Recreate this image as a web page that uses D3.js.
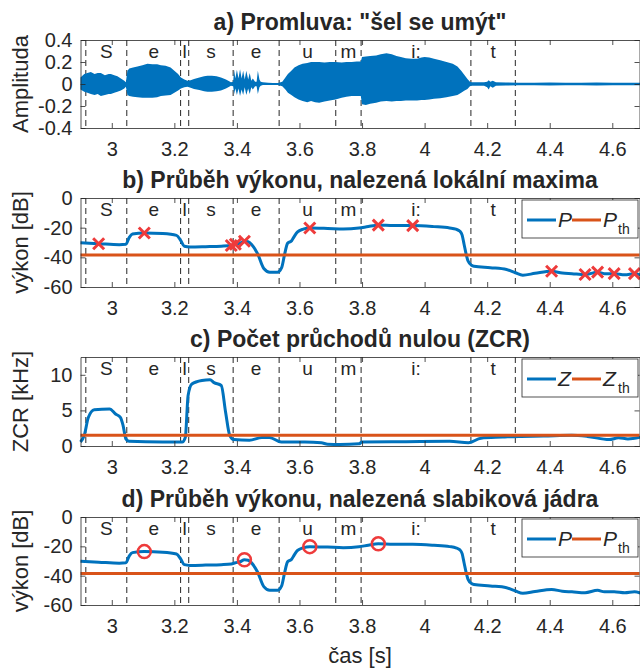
<!DOCTYPE html>
<html>
<head>
<meta charset="utf-8">
<script src="https://cdn.jsdelivr.net/npm/d3@7"></script>
<style>
body { margin: 0; background: #fff; }
text { font-family: "Liberation Sans", Arial, sans-serif; fill: #262626; }
</style>
</head>
<body>
<svg id="chart" width="640" height="668"></svg>
<script>

// phoneme segmentation
var boundaries = [2.917, 3.048, 3.220, 3.246, 3.388, 3.535, 3.716, 3.797, 4.148, 4.290];
var phonemes = ["S", "e", "l", "s", "e", "u", "m", "i:", "t"];

// a) waveform envelope (read from the picture)
var waveT = [2.900, 2.912, 2.922, 2.933, 2.945, 2.955, 2.965, 2.978, 2.990, 2.997, 3.008, 3.018, 3.029, 3.040, 3.045,
  3.050, 3.056, 3.068, 3.082, 3.098, 3.114, 3.130, 3.145, 3.157, 3.172, 3.188, 3.200, 3.212, 3.221, 3.232, 3.242,
  3.252, 3.263, 3.280, 3.295, 3.306, 3.320, 3.335, 3.349, 3.365, 3.381, 3.388,
  3.391, 3.395, 3.400, 3.405, 3.410, 3.415, 3.420, 3.425, 3.430, 3.436, 3.441, 3.446, 3.451, 3.458, 3.463, 3.467, 3.472, 3.476,
  3.483, 3.500, 3.515, 3.531, 3.545, 3.555, 3.563, 3.574, 3.584, 3.597, 3.610, 3.625, 3.637, 3.650, 3.663, 3.680,
  3.697, 3.715, 3.735, 3.750, 3.767, 3.783, 3.796, 3.800, 3.812, 3.826, 3.845, 3.860, 3.878, 3.895, 3.910, 3.924,
  3.940, 3.958, 3.976, 3.990, 4.000, 4.015, 4.030, 4.050, 4.070, 4.090, 4.105, 4.117, 4.128, 4.137, 4.145, 4.150,
  4.170, 4.190, 4.200, 4.205, 4.210, 4.218, 4.228, 4.260, 4.300, 4.350, 4.400, 4.450, 4.500, 4.550, 4.600, 4.650, 4.690];
var waveHi = [0.06, 0.09, 0.10, 0.11, 0.09, 0.10, 0.10, 0.08, 0.09, 0.09, 0.08, 0.07, 0.05, 0.03, 0.015,
  0.12, 0.14, 0.15, 0.16, 0.17, 0.185, 0.18, 0.18, 0.17, 0.165, 0.15, 0.12, 0.09, 0.06, 0.04, 0.03,
  0.035, 0.045, 0.06, 0.07, 0.075, 0.075, 0.07, 0.06, 0.04, 0.015, 0.02,
  0.13, 0.05, 0.13, 0.05, 0.135, 0.05, 0.12, 0.04, 0.12, 0.04, 0.10, 0.03, 0.05, 0.02, 0.02, 0.12, 0.04, 0.02,
  0.015, 0.012, 0.01, 0.01, 0.02, 0.06, 0.09, 0.12, 0.15, 0.17, 0.185, 0.19, 0.20, 0.20, 0.20, 0.195,
  0.20, 0.20, 0.195, 0.20, 0.20, 0.205, 0.205, 0.245, 0.25, 0.255, 0.26, 0.27, 0.28, 0.27, 0.255, 0.245,
  0.235, 0.23, 0.23, 0.24, 0.245, 0.24, 0.23, 0.215, 0.20, 0.185, 0.16, 0.12, 0.08, 0.045, 0.02, 0.015,
  0.015, 0.015, 0.02, 0.035, 0.02, 0.03, 0.015, 0.013, 0.012, 0.012, 0.013, 0.012, 0.012, 0.013, 0.012, 0.012, 0.012];
var waveLo = [-0.05, -0.07, -0.08, -0.09, -0.10, -0.09, -0.11, -0.10, -0.09, -0.09, -0.08, -0.07, -0.06, -0.04, -0.025,
  -0.10, -0.11, -0.115, -0.12, -0.125, -0.125, -0.125, -0.12, -0.11, -0.105, -0.10, -0.08, -0.06, -0.04, -0.03, -0.025,
  -0.035, -0.045, -0.055, -0.065, -0.07, -0.07, -0.065, -0.06, -0.04, -0.015, -0.02,
  -0.09, -0.04, -0.10, -0.04, -0.11, -0.05, -0.10, -0.03, -0.10, -0.04, -0.09, -0.03, -0.05, -0.02, -0.02, -0.09, -0.03, -0.015,
  -0.01, -0.01, -0.01, -0.01, -0.02, -0.05, -0.08, -0.10, -0.12, -0.14, -0.155, -0.165, -0.155, -0.165, -0.17, -0.16,
  -0.15, -0.14, -0.125, -0.115, -0.11, -0.11, -0.11, -0.185, -0.19, -0.18, -0.17, -0.16, -0.155, -0.16, -0.155, -0.155,
  -0.15, -0.15, -0.15, -0.145, -0.145, -0.14, -0.135, -0.13, -0.12, -0.11, -0.10, -0.08, -0.06, -0.045, -0.02, -0.015,
  -0.015, -0.015, -0.03, -0.05, -0.02, -0.035, -0.015, -0.013, -0.012, -0.012, -0.013, -0.012, -0.012, -0.013, -0.012, -0.012, -0.012];

// b), d) power P [dB]
var powT = [2.900, 2.958, 3.024, 3.045, 3.056, 3.066, 3.104, 3.163, 3.207, 3.220, 3.232, 3.250, 3.300, 3.350, 3.382,
  3.395, 3.410, 3.424, 3.436, 3.447, 3.466, 3.486, 3.505, 3.530, 3.543, 3.552, 3.562, 3.575, 3.583, 3.594, 3.612,
  3.633, 3.690, 3.740, 3.790, 3.820, 3.852, 3.900, 3.962, 4.030, 4.080, 4.100, 4.113, 4.120, 4.126, 4.133, 4.139,
  4.150, 4.158, 4.210, 4.262, 4.290, 4.314, 4.353, 4.406, 4.440, 4.471, 4.513, 4.553, 4.575, 4.606, 4.640, 4.671, 4.690];
var powP = [-30.2, -30.8, -31.5, -31.2, -26.5, -24.3, -23.6, -24.0, -25.2, -28.5, -32.5, -33.0, -32.8, -32.5, -32.0,
  -31.2, -30.5, -29.2, -29.5, -31.3, -37.5, -47.5, -50.0, -50.0, -47.0, -38.5, -30.5, -28.8, -26.0, -22.8, -21.0,
  -20.2, -20.5, -20.9, -20.3, -19.2, -18.3, -18.6, -18.6, -19.3, -20.2, -21.0, -22.4, -25.0, -31.0, -38.0, -42.5,
  -45.3, -46.0, -47.0, -48.2, -50.4, -52.0, -50.8, -49.4, -50.6, -51.0, -51.6, -50.0, -51.0, -51.0, -51.7, -51.0, -51.8];
var powTh = -38.5;

// local maxima (b) and syllable nuclei (d)
var maxT = [2.958, 3.104, 3.382, 3.395, 3.424, 3.633, 3.852, 3.962, 4.406, 4.513, 4.553, 4.606, 4.671];
var maxP = [-30.8, -23.6, -32.0, -31.2, -29.2, -20.2, -18.3, -18.6, -49.4, -51.6, -50.0, -51.0, -51.0];
var nucT = [3.104, 3.424, 3.633, 3.852];
var nucP = [-23.6, -29.2, -20.2, -18.3];

// c) zero crossing rate Z [kHz]
var zcrT = [2.900, 2.912, 2.925, 2.944, 2.993, 3.012, 3.028, 3.036, 3.045, 3.055, 3.163, 3.225, 3.235, 3.244, 3.256,
  3.288, 3.314, 3.327, 3.350, 3.364, 3.377, 3.390, 3.440, 3.480, 3.504, 3.542, 3.617, 3.670, 3.690, 3.730, 3.790,
  3.800, 3.940, 4.080, 4.140, 4.180, 4.250, 4.300, 4.380, 4.470, 4.520, 4.590, 4.620, 4.650, 4.690];
var zcrZ = [0.55, 1.5, 4.0, 5.1, 5.2, 4.5, 4.0, 2.9, 1.0, 0.65, 0.55, 0.55, 1.2, 7.1, 8.7,
  9.2, 9.3, 8.9, 8.5, 4.7, 1.5, 0.9, 0.8, 1.2, 1.2, 0.55, 0.55, 0.45, 0.25, 0.2, 0.3,
  0.55, 0.6, 0.65, 0.45, 1.1, 1.25, 1.35, 1.4, 1.5, 1.35, 0.9, 1.15, 1.0, 1.25];
var zcrTh = 1.5;

var xTicks = [3, 3.2, 3.4, 3.6, 3.8, 4, 4.2, 4.4, 4.6];

var blue = "#0072BD", orange = "#D95319", red = "#EE3B3B";

var svg = d3.select("#chart");

var x = d3.scaleLinear().domain([2.9, 4.687]).range([80.5, 639.5]);

var panels = [
	{ id: "a", top: 40, bottom: 128, domain: [-0.4, 0.4], ticks: [-0.4, -0.2, 0, 0.2, 0.4],
	  title: "a) Promluva: \"šel se umýt\"", ylabel: "Amplituda" },
	{ id: "b", top: 198, bottom: 287, domain: [-60, 0], ticks: [-60, -40, -20, 0],
	  title: "b) Průběh výkonu, nalezená lokální maxima", ylabel: "výkon [dB]", legend: "P" },
	{ id: "c", top: 357, bottom: 446, domain: [0, 12.5], ticks: [0, 5, 10],
	  title: "c) Počet průchodů nulou (ZCR)", ylabel: "ZCR [kHz]", legend: "Z" },
	{ id: "d", top: 517, bottom: 605, domain: [-60, 0], ticks: [-60, -40, -20, 0],
	  title: "d) Průběh výkonu, nalezená slabiková jádra", ylabel: "výkon [dB]", legend: "P" }
];

panels.forEach(function (p) {

	var y = d3.scaleLinear().domain(p.domain).range([p.bottom, p.top]);
	var g = svg.append("g").attr("class", "panel-" + p.id);

	// phoneme boundaries
	g.selectAll("line.bound")
	.data(boundaries)
	.enter().append("line")
	.attr("class", "bound")
	.attr("x1", function (d) { return x(d); })
	.attr("x2", function (d) { return x(d); })
	.attr("y1", p.top)
	.attr("y2", p.bottom)
	.attr("stroke", "#262626")
	.attr("stroke-width", 1)
	.attr("stroke-dasharray", "6,4");

	g.selectAll("text.phon")
	.data(phonemes)
	.enter().append("text")
	.attr("class", "phon")
	.attr("x", function (d, i) { return (x(boundaries[i]) + x(boundaries[i + 1])) / 2; })
	.attr("y", p.top + 18)
	.attr("text-anchor", "middle")
	.style("font-size", "19px")
	.attr("fill", "#111")
	.text(function (d) { return d; });

	// data
	if (p.id == "a") {
		var area = d3.area()
		.x(function (d, i) { return x(waveT[i]); })
		.y0(function (d, i) { return y(waveLo[i]); })
		.y1(function (d, i) { return y(waveHi[i]); });
		g.append("path").datum(waveT).attr("d", area).attr("fill", blue);
	}

	var line = d3.line().x(function (d) { return x(d[0]); }).y(function (d) { return y(d[1]); });

	if (p.id == "b" || p.id == "d") {
		g.append("path").datum(d3.zip(powT, powP)).attr("d", line.curve(d3.curveMonotoneX))
		.attr("fill", "none").attr("stroke", blue).attr("stroke-width", 3);
		g.append("line").attr("x1", x.range()[0]).attr("x2", x.range()[1])
		.attr("y1", y(powTh)).attr("y2", y(powTh))
		.attr("stroke", orange).attr("stroke-width", 3);
	}
	if (p.id == "c") {
		g.append("path").datum(d3.zip(zcrT, zcrZ)).attr("d", line.curve(d3.curveMonotoneX))
		.attr("fill", "none").attr("stroke", blue).attr("stroke-width", 3);
		g.append("line").attr("x1", x.range()[0]).attr("x2", x.range()[1])
		.attr("y1", y(zcrTh)).attr("y2", y(zcrTh))
		.attr("stroke", orange).attr("stroke-width", 3);
	}
	if (p.id == "b") {
		g.selectAll("path.mx")
		.data(d3.zip(maxT, maxP))
		.enter().append("path")
		.attr("class", "mx")
		.attr("d", "M-5.5,-5.5L5.5,5.5M-5.5,5.5L5.5,-5.5")
		.attr("transform", function (d) { return "translate(" + x(d[0]) + "," + y(d[1]) + ")"; })
		.attr("stroke", red).attr("stroke-width", 3);
	}
	if (p.id == "d") {
		g.selectAll("circle.nuc")
		.data(d3.zip(nucT, nucP))
		.enter().append("circle")
		.attr("class", "nuc")
		.attr("cx", function (d) { return x(d[0]); })
		.attr("cy", function (d) { return y(d[1]); })
		.attr("r", 6.5)
		.attr("fill", "none").attr("stroke", red).attr("stroke-width", 2.5);
	}

	// axes (box with inward ticks)
	var fmt = function (d) { return String(d); };
	var bottomAxis = d3.axisBottom(x).tickValues(xTicks).tickFormat(fmt).tickSizeInner(-5).tickSizeOuter(0).tickPadding(14);
	var topAxis = d3.axisTop(x).tickValues(xTicks).tickFormat("").tickSizeInner(-5).tickSizeOuter(0);
	var leftAxis = d3.axisLeft(y).tickValues(p.ticks).tickFormat(fmt).tickSizeInner(-5).tickSizeOuter(0).tickPadding(8);
	var rightAxis = d3.axisRight(y).tickValues(p.ticks).tickFormat("").tickSizeInner(-5).tickSizeOuter(0);

	g.append("g").attr("transform", "translate(0," + p.bottom + ")").call(bottomAxis);
	g.append("g").attr("transform", "translate(0," + p.top + ")").call(topAxis);
	g.append("g").attr("transform", "translate(" + x.range()[0] + ",0)").call(leftAxis);
	g.append("g").attr("transform", "translate(" + x.range()[1] + ",0)").call(rightAxis);

	g.selectAll(".domain, .tick line").attr("stroke", "#262626").attr("stroke-width", 0.8);
	g.selectAll(".tick text").style("font-size", "20px").style("font-family", "Liberation Sans, Arial, sans-serif").attr("fill", "#262626");

	// legend
	if (p.legend) {
		var lg = g.append("g").attr("transform", "translate(522," + (p.top + 2) + ")");
		lg.append("rect").attr("width", 116).attr("height", 38)
		.attr("fill", "#fff").attr("stroke", "#262626").attr("stroke-width", 0.8);
		lg.append("line").attr("x1", 5).attr("x2", 34).attr("y1", 20).attr("y2", 20)
		.attr("stroke", blue).attr("stroke-width", 3);
		lg.append("text").attr("x", 36).attr("y", 27).style("font-size", "21px").style("font-style", "italic").text(p.legend);
		lg.append("line").attr("x1", 50).attr("x2", 79).attr("y1", 20).attr("y2", 20)
		.attr("stroke", orange).attr("stroke-width", 3);
		lg.append("text").attr("x", 81).attr("y", 27).style("font-size", "21px").style("font-style", "italic").text(p.legend);
		lg.append("text").attr("x", 96).attr("y", 34).style("font-size", "14px").text("th");
	}

	// title and y label
	svg.append("text")
	.attr("x", (x.range()[0] + x.range()[1]) / 2)
	.attr("y", p.top - 10)
	.attr("text-anchor", "middle")
	.style("font-size", "23px")
	.style("font-weight", "bold")
	.attr("fill", "#000")
	.text(p.title);

	svg.append("text")
	.attr("transform", "translate(28," + (p.top + p.bottom) / 2 + ") rotate(-90)")
	.attr("text-anchor", "middle")
	.style("font-size", "22px")
	.text(p.ylabel);
});

svg.append("text")
.attr("x", (x.range()[0] + x.range()[1]) / 2)
.attr("y", 663)
.attr("text-anchor", "middle")
.style("font-size", "22px")
.text("čas [s]");

</script>
</body>
</html>
